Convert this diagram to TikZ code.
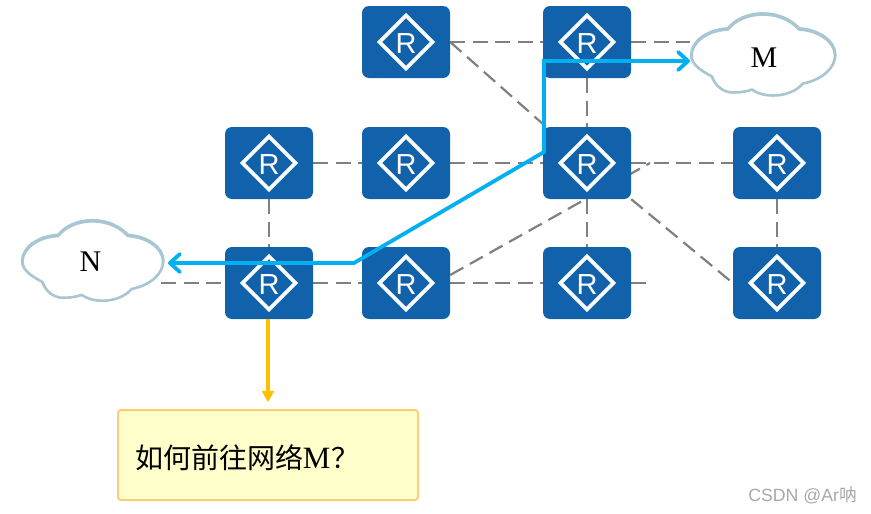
\documentclass[tikz,border=0pt]{standalone}
\usepackage{fontspec}
\setmainfont{Liberation Serif}
\setsansfont{Liberation Sans}
\newfontfamily\cjkfont{Noto Sans CJK SC}
\usetikzlibrary{arrows.meta,backgrounds,calc}
\definecolor{routerblue}{HTML}{1162AA}
\definecolor{cloudline}{HTML}{A9C6D3}
\definecolor{linkgray}{HTML}{808080}
\definecolor{pathblue}{HTML}{00B0F0}
\definecolor{askorange}{HTML}{FFC000}
\definecolor{notefill}{HTML}{FFFFCC}
\definecolor{noteline}{HTML}{FFCC77}
\definecolor{markgray}{HTML}{A8A8A8}
\tikzset{
  routerbox/.style={fill=routerblue, rounded corners=7pt, minimum width=88pt, minimum height=72pt,
    inner sep=0pt, text=white, text height=23pt, text depth=0pt, font=\sffamily\fontsize{29}{29}\selectfont,
    path picture={\draw[white, line width=3.6pt, sharp corners, miter limit=10]
      ($(path picture bounding box.center)+(-26.5,0)$) -- ++(26.5,-26.5) -- ++(26.5,26.5) -- ++(-26.5,26.5) -- cycle;}},
  link/.style={draw=linkgray, line width=2.2pt, dash pattern=on 15pt off 7.5pt},
  route/.style={draw=pathblue, line width=3.8pt, line join=miter,
    arrows={Straight Barb[length=10pt,width=18pt,line cap=round,round]-Straight Barb[length=10pt,width=18pt,line cap=round,round]}},
  asking/.style={draw=askorange, line width=3.6pt, -{Triangle[length=11pt,width=12pt]}},
  cloudlabel/.style={inner sep=0pt, font=\fontsize{30}{30}\selectfont},
  cloudtop/.style={draw=cloudline, line width=3.2pt, line join=round},
  cloudedge/.style={draw=cloudline, fill=white, line width=2.6pt, line join=round},
  note/.style={draw=noteline, fill=notefill, line width=2pt, rounded corners=3pt,
    minimum height=90pt, text width=266pt, inner xsep=17pt, inner ysep=0pt, align=left,
    font=\fontsize{28}{30}\selectfont},
  watermark/.style={inner sep=0pt, text=markgray, font=\sffamily\fontsize{17.7}{18}\selectfont}
}
\newcommand{\cloudpath}{(-71.5,0)
    .. controls (-71,-14) and (-55,-25) .. (-35,-26)
    .. controls (-28,-35) and (-15,-41) .. (0,-41)
    .. controls (15,-41) and (28,-35) .. (36,-26)
    .. controls (55,-25) and (72,-14) .. (72,0)
    .. controls (72,12) and (60,24) .. (40,28)
    .. controls (33,36) and (22,40) .. (10,40)
    .. controls (0,40) and (-7,37) .. (-11,34)
    .. controls (-16,36) and (-23,37) .. (-30,37)
    .. controls (-40,37) and (-48,30) .. (-51,21)
    .. controls (-60,16) and (-71.5,10) .. cycle}
\newcommand{\cloudat}[3]{%
  \path[cloudtop, shift={(#1,#2-0.8)}, scale=#3] \cloudpath;
  \path[cloudedge, shift={(#1,#2)}, scale=#3] \cloudpath;}
\begin{document}
\begin{tikzpicture}[x=1pt,y=-1pt]
\useasboundingbox (0,0) rectangle (871,514);
% routers
\node[routerbox] (a) at (406,42) {R};
\node[routerbox] (b) at (587,42) {R};
\node[routerbox] (c) at (269,163) {R};
\node[routerbox] (d) at (406,163) {R};
\node[routerbox] (e) at (587,163) {R};
\node[routerbox] (f) at (777,163) {R};
\node[routerbox] (g) at (269,283) {R};
\node[routerbox] (h) at (406,283) {R};
\node[routerbox] (i) at (587,283) {R};
\node[routerbox] (j) at (777,283) {R};
% clouds
\cloudat{763}{55.5}{1}
\node[cloudlabel] (m) at (764,57.5) {M};
\cloudat{92.5}{261.5}{0.98}
\node[cloudlabel] (n) at (90.5,262) {N};
% free ends
\coordinate (mleft) at (690,42);
\coordinate (nright) at (161,283);
\coordinate (rowend) at (648,283);
\coordinate (diagend) at (650,163);
\coordinate (tipn) at (168,263);
\coordinate (bendone) at (354,263);
\coordinate (bendtwo) at (544,152);
\coordinate (bendthree) at (544,61);
\coordinate (tipm) at (690,61);
\coordinate (asktip) at (268,402);
% links behind the routers
\begin{scope}[on background layer]
\draw[link] (a.east) -- (b.west);
\draw[link] (b.east) -- (mleft);
\draw[link] (a.east) -- (e.center);
\draw[link] (b.south) -- (e.north);
\draw[link] (c.east) -- (d.west);
\draw[link] (d.east) -- (e.west);
\draw[link] (e.east) -- (f.west);
\draw[link] (c.south) -- (g.north);
\draw[link] ($(h.east)+(0,-8)$) -- (diagend);
\draw[link] (e.south east) -- (j.west);
\draw[link] (e.south) -- (i.north);
\draw[link] (f.south) -- (j.north);
\draw[link] (nright) -- (g.west);
\draw[link] (g.east) -- (h.west);
\draw[link] (h.east) -- (i.west);
\draw[link] (i.east) -- (rowend);
\end{scope}
% route
\draw[route] (tipn) -- (bendone) -- (bendtwo) -- (bendthree) -- (tipm);
% question
\node[note] (q) at (268,455) {\raisebox{-13pt}[0pt][0pt]{{\cjkfont 如何前往网络}{\fontsize{31}{30}\selectfont M}\kern1pt{\cjkfont ？}}};
\draw[asking] (g.south -| asktip) -- (asktip);
% watermark
\node[watermark, anchor=east] (w) at (857,495) {CSDN @Ar{\cjkfont 呐}};
\end{tikzpicture}
\end{document}
